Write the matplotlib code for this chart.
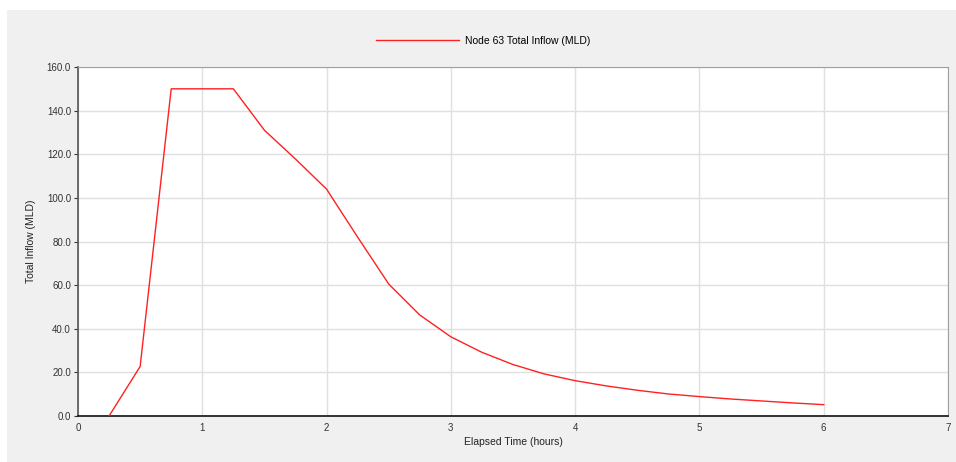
import matplotlib
matplotlib.use("Agg")
import matplotlib.pyplot as plt
from matplotlib.patches import Rectangle
from matplotlib.ticker import FormatStrFormatter, MultipleLocator

# Data (hours, MLD)
time_h = [0.25, 0.5, 0.75, 1.0, 1.25, 1.5, 1.75, 2.0, 2.25, 2.5, 2.75, 3.0,
          3.25, 3.5, 3.75, 4.0, 4.25, 4.5, 4.75, 5.0, 5.25, 5.5, 5.75, 6.0]
inflow = [0.0, 22.7, 150.0, 150.0, 150.0, 131.0, 117.8, 104.0, 82.0, 60.5, 46.3, 36.3,
          29.2, 23.6, 19.3, 16.2, 13.8, 11.8, 10.1, 8.9, 7.8, 6.9, 6.0, 5.2]
series_label = "Node 63 Total Inflow (MLD)"
x_label = "Elapsed Time (hours)"
y_label = "Total Inflow (MLD)"

plt.rcParams['font.family'] = ['Liberation Sans', 'DejaVu Sans']

W, H = 956, 462
fig = plt.figure(figsize=(W / 100, H / 100), dpi=100, facecolor='white')
fig.patches.append(Rectangle((7 / W, 0), 1, 1 - 10 / H, transform=fig.transFigure,
                             facecolor='#f0f0f0', edgecolor='none', zorder=-10))

ax = fig.add_axes([78 / W, 46 / H, (948 - 78) / W, (416 - 67) / H])
ax.set_facecolor('white')
line, = ax.plot(time_h, inflow, color='#ff2020', lw=1.0, label=series_label, zorder=3)

ax.set_xlim(0, 7)
ax.set_ylim(0, 160)
ax.xaxis.set_major_locator(MultipleLocator(1))
ax.yaxis.set_major_locator(MultipleLocator(20))
ax.yaxis.set_major_formatter(FormatStrFormatter('%.1f'))
ax.grid(True, color='#e0e0e0', lw=1.0, zorder=0)
ax.tick_params(labelsize=7, width=0.8, colors='#333333')
ax.tick_params(axis='y', length=3, pad=2)
ax.tick_params(axis='x', length=0, pad=5)

for s in ['top', 'right']:
    ax.spines[s].set_color('#a0a0a0')
    ax.spines[s].set_linewidth(0.8)
ax.spines['left'].set_color('#555555')
ax.spines['left'].set_linewidth(1.2)
ax.spines['bottom'].set_color('#111111')
ax.spines['bottom'].set_linewidth(1.2)

ax.set_xlabel(x_label, fontsize=7.5, color='#222222', labelpad=3)
ax.set_ylabel(y_label, fontsize=7.5, color='#222222', labelpad=8)

fig.legend(handles=[line], loc='center', bbox_to_anchor=(483 / W, 1 - 41 / H),
           frameon=False, fontsize=7.5, handlelength=8, handletextpad=0.6)

fig.savefig('out.png', dpi=100, facecolor=fig.get_facecolor())
